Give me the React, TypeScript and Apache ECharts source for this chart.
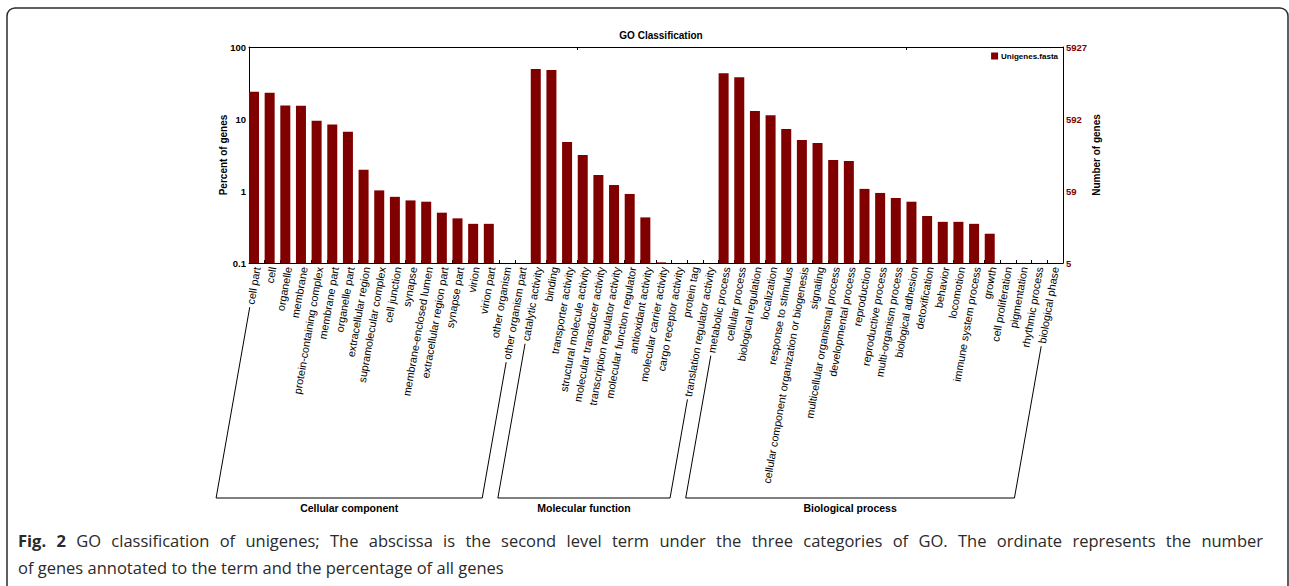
import React, { useEffect, useRef } from 'react';
import * as echarts from 'echarts';

const TOTAL_GENES = 5927;
const SERIES_NAME = 'Unigenes.fasta';

const CC_TERMS = [
  'cell part', 'cell', 'organelle', 'membrane', 'protein-containing complex', 'membrane part',
  'organelle part', 'extracellular region', 'supramolecular complex', 'cell junction', 'synapse',
  'membrane-enclosed lumen', 'extracellular region part', 'synapse part', 'virion', 'virion part',
  'other organism', 'other organism part',
];
const CC_PERCENT = [23.9, 23.2, 15.4, 15.3, 9.47, 8.41, 6.66, 1.98, 1.02, 0.83, 0.74, 0.71, 0.5, 0.417, 0.35, 0.35, null, null];

const MF_TERMS = [
  'catalytic activity', 'binding', 'transporter activity', 'structural molecule activity',
  'molecular transducer activity', 'transcription regulator activity', 'molecular function regulator',
  'antioxidant activity', 'molecular carrier activity', 'cargo receptor activity', 'protein tag',
  'translation regulator activity',
];
const MF_PERCENT = [49.6, 48.0, 4.79, 3.16, 1.67, 1.21, 0.91, 0.43, 0.102, null, null, null];

const BP_TERMS = [
  'metabolic process', 'cellular process', 'biological regulation', 'localization', 'response to stimulus',
  'cellular component organization or biogenesis', 'signaling', 'multicellular organismal process',
  'developmental process', 'reproduction', 'reproductive process', 'multi-organism process',
  'biological adhesion', 'detoxification', 'behavior', 'locomotion', 'immune system process', 'growth',
  'cell proliferation', 'pigmentation', 'rhythmic process', 'biological phase',
];
const BP_PERCENT = [43.2, 38.0, 12.9, 11.3, 7.24, 5.1, 4.64, 2.7, 2.61, 1.07, 0.94, 0.8, 0.71, 0.45, 0.373, 0.373, 0.35, 0.255, null, null, null, null];

const GROUP_NAMES = ['Cellular component', 'Molecular function', 'Biological process'];
const GROUP_TERMS = [CC_TERMS, MF_TERMS, BP_TERMS];

const CATEGORIES = [...CC_TERMS, ...MF_TERMS, ...BP_TERMS];
const PERCENTS = [...CC_PERCENT, ...MF_PERCENT, ...BP_PERCENT];

const Y_MIN = 0.1;
const Y_MAX = 100;

const CAPTION_BOLD = 'Fig. 2';
const CAPTION_LINE1 = 'GO classification of unigenes; The abscissa is the second level term under the three categories of GO. The ordinate represents the number';
const CAPTION_LINE2 = 'of genes annotated to the term and the percentage of all genes';

const SANS = '"Liberation Sans", Arial, sans-serif';
const CAPTION_FONT = '"Open Sans", sans-serif';
const BAR_COLOR = '#800000';
const LABEL_SIZE = 10.8;
const LABEL_ROT = 80;
const LABEL_MARGIN = 4;
const BRACKET_BASE_Y = 498;
const CAPTION_LEFT = 18;
const CAPTION_RIGHT = 1263;
const CAPTION_SIZE = 16.5;
const CAPTION_COLOR = '#2a2a2a';

const fmt = (v: number) => String(parseFloat(Number(v).toPrecision(3)));

export default function App() {
  const ref = useRef<HTMLDivElement>(null);
  useEffect(() => {
    document.body.style.margin = '0';
    const chart = echarts.init(ref.current!, null, { renderer: 'svg' });
    const boldText = (size: number, color = '#000') => ({ fontFamily: SANS, fontSize: size, fontWeight: 'bold', color });
    const option: any = {
      animation: false,
      backgroundColor: '#fff',
      title: {
        text: 'GO Classification',
        left: 656,
        textAlign: 'center',
        top: 25,
        textStyle: boldText(10),
      },
      legend: {
        data: [SERIES_NAME],
        right: 226,
        top: 47,
        itemWidth: 7,
        itemHeight: 7,
        icon: 'rect',
        textStyle: { ...boldText(8), padding: [0, 0, 0, -2] },
      },
      grid: { left: 249, right: 226, top: 47, bottom: 323, containLabel: false, outerBoundsMode: 'none' },
      xAxis: [
        {
          type: 'category',
          data: CATEGORIES,
          position: 'bottom',
          boundaryGap: true,
          axisLine: { show: true, lineStyle: { color: '#000', width: 1 } },
          axisTick: { show: true, inside: true, length: 3, lineStyle: { color: '#000' } },
          axisLabel: {
            interval: 0,
            rotate: LABEL_ROT,
            margin: LABEL_MARGIN,
            fontFamily: SANS,
            fontSize: LABEL_SIZE,
            color: '#000',
          },
          splitLine: { show: false },
        },
        {
          type: 'category',
          data: CATEGORIES,
          position: 'top',
          boundaryGap: true,
          axisLine: { show: true, lineStyle: { color: '#000', width: 1 } },
          axisTick: { show: true, inside: true, length: 3, lineStyle: { color: '#000' } },
          axisLabel: { show: false },
          splitLine: { show: false },
        },
      ],
      yAxis: [
        {
          type: 'log',
          logBase: 10,
          min: Y_MIN,
          max: Y_MAX,
          startValue: Y_MIN,
          position: 'left',
          name: 'Percent of genes',
          nameLocation: 'middle',
          nameRotate: 90,
          nameGap: 21,
          nameMoveOverlap: false,
          nameTextStyle: boldText(10),
          axisLine: { show: true, lineStyle: { color: '#000', width: 1 } },
          axisTick: { show: false },
          axisLabel: { ...boldText(9.5), margin: 3, formatter: (v: number) => fmt(v) },
          splitLine: { show: false },
        },
        {
          type: 'log',
          logBase: 10,
          min: Y_MIN,
          max: Y_MAX,
          startValue: Y_MIN,
          position: 'right',
          name: 'Number of genes',
          nameLocation: 'middle',
          nameRotate: 90,
          nameGap: 28,
          nameMoveOverlap: false,
          nameTextStyle: boldText(10),
          axisLine: { show: true, lineStyle: { color: '#000', width: 1 } },
          axisTick: { show: false },
          axisLabel: {
            ...boldText(9.5, BAR_COLOR),
            margin: 3,
            formatter: (v: number) => String(Math.floor((v * TOTAL_GENES) / 100 + 1e-9)),
          },
          splitLine: { show: false },
        },
      ],
      series: [
        {
          name: SERIES_NAME,
          type: 'bar',
          xAxisIndex: 0,
          yAxisIndex: 0,
          data: PERCENTS.map((v) => (v == null ? '-' : v)),
          barWidth: 10,
          barGap: '0%',
          itemStyle: { color: BAR_COLOR },
        },
        {
          name: 'pad',
          type: 'bar',
          xAxisIndex: 0,
          yAxisIndex: 0,
          data: PERCENTS.map(() => '-'),
          barWidth: 5.65,
          barGap: '0%',
          itemStyle: { color: 'transparent' },
          silent: true,
        },
      ],
    };
    chart.setOption(option);

    const ctx = document.createElement('canvas').getContext('2d')!;
    const measure = (s: string, font: string) => {
      ctx.font = font;
      return ctx.measureText(s).width;
    };

    // Group brackets built from the axis positions of the first / last term of each group
    const theta = (LABEL_ROT * Math.PI) / 180;
    const axisY = chart.convertToPixel({ yAxisIndex: 0 } as any, Y_MIN) as unknown as number;
    const GAP = 3;
    const starts = CATEGORIES.map((c) => {
      const x = chart.convertToPixel({ xAxisIndex: 0 } as any, c) as unknown as number;
      const L = measure(c, `${LABEL_SIZE}px ${SANS}`) + GAP;
      return [x - L * Math.cos(theta), axisY + LABEL_MARGIN + L * Math.sin(theta)];
    });
    const graphics: any[] = [];
    let idx = 0;
    GROUP_TERMS.forEach((terms, g) => {
      const s1 = starts[idx];
      const s2 = starts[idx + terms.length - 1];
      idx += terms.length;
      const p1 = [s1[0] - (BRACKET_BASE_Y - s1[1]) / Math.tan(theta), BRACKET_BASE_Y];
      const p2 = [s2[0] - (BRACKET_BASE_Y - s2[1]) / Math.tan(theta), BRACKET_BASE_Y];
      graphics.push({
        type: 'polyline',
        shape: { points: [s1, p1, p2, s2] },
        style: { stroke: '#000', lineWidth: 1, fill: null },
        silent: true,
      });
      graphics.push({
        type: 'text',
        x: (p1[0] + p2[0]) / 2,
        y: BRACKET_BASE_Y + 10,
        style: {
          text: GROUP_NAMES[g],
          align: 'center',
          verticalAlign: 'middle',
          fontFamily: SANS,
          fontSize: 10.5,
          fontWeight: 'bold',
          fill: '#000',
        },
      });
    });
    graphics.push({
      type: 'rect',
      shape: { x: 7, y: 8, width: 1281, height: 585, r: 8 },
      style: { fill: null, stroke: '#2b2b2b', lineWidth: 1.5 },
      silent: true,
      z: -1,
    });

    // Caption line 1 (justified, like the original layout)
    const words = [
      ...CAPTION_BOLD.split(' ').map((w) => ({ w, bold: true })),
      ...CAPTION_LINE1.split(' ').map((w) => ({ w, bold: false })),
    ];
    const widths = words.map(({ w, bold }) =>
      measure(w, `${bold ? 'bold ' : ''}${CAPTION_SIZE}px ${CAPTION_FONT}`)
    );
    const total = widths.reduce((a, b) => a + b, 0);
    const gap = (CAPTION_RIGHT - CAPTION_LEFT - total) / (words.length - 1);
    let cx = CAPTION_LEFT;
    words.forEach(({ w, bold }, i) => {
      graphics.push({
        type: 'text',
        x: cx,
        y: 540,
        style: {
          text: w,
          verticalAlign: 'middle',
          fontFamily: CAPTION_FONT,
          fontSize: CAPTION_SIZE,
          fontWeight: bold ? 'bold' : 'normal',
          fill: CAPTION_COLOR,
        },
      });
      cx += widths[i] + gap;
    });
    graphics.push({
      type: 'text',
      x: CAPTION_LEFT,
      y: 567,
      style: {
        text: CAPTION_LINE2,
        verticalAlign: 'middle',
        fontFamily: CAPTION_FONT,
        fontSize: CAPTION_SIZE,
        fill: CAPTION_COLOR,
      },
    });
    chart.setOption({ graphic: graphics });
    return () => chart.dispose();
  }, []);
  return <div ref={ref} style={{ width: 1289, height: 586 }} />;
}
